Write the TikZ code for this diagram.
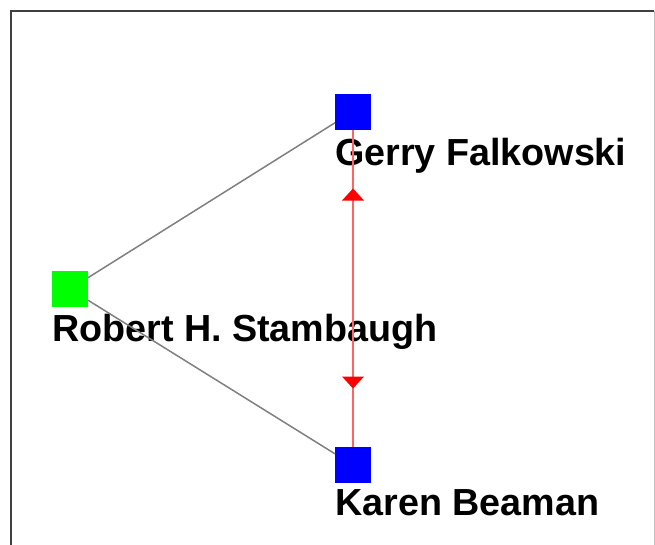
\documentclass[tikz,border=0pt]{standalone}
\usepackage{fontspec}
\setmainfont{Liberation Sans}
\usetikzlibrary{decorations.markings}
\begin{document}
\begin{tikzpicture}[x=1pt,y=1pt,
  sq/.style={draw=none,minimum size=36pt,inner sep=0pt,outer sep=0pt},
  lbl/.style={anchor=base west,inner sep=0pt,font=\fontsize{37.7}{40}\selectfont\bfseries},
  tie/.style={draw=gray,line width=1.5pt},
  redge/.style={draw={rgb,255:red,255;green,100;blue,100},line width=1.2pt,postaction={decorate},
    decoration={markings,
      mark=at position 59pt with {\fill[red] (0,0) -- (12,11) -- (12,-11) -- cycle;},
      mark=at position 259pt with {\fill[red] (0,0) -- (-12,11) -- (-12,-11) -- cycle;}}}
]
\useasboundingbox (0,0) rectangle (655,-544);
\fill[white] (0,0) rectangle (655,-544);
\draw[darkgray,line width=2pt] (11,-546) -- (11,-11) -- (654,-11);
\draw[lightgray,line width=1pt] (654,-11) -- (654,-546);
\node[sq,fill=green] (r) at (70,-289) {};
\node[sq,fill=blue] (g) at (353,-111.5) {};
\node[sq,fill=blue] (k) at (353,-465) {};
\node[lbl] (gl) at (335,-165) {Gerry Falkowski};
\node[lbl] (rl) at (52,-341) {Robert H. Stambaugh};
\node[lbl] (kl) at (335,-515) {Karen Beaman};
\draw[tie] (r) -- (g);
\draw[tie] (r) -- (k);
\draw[redge] (g) -- (k);
\end{tikzpicture}
\end{document}
